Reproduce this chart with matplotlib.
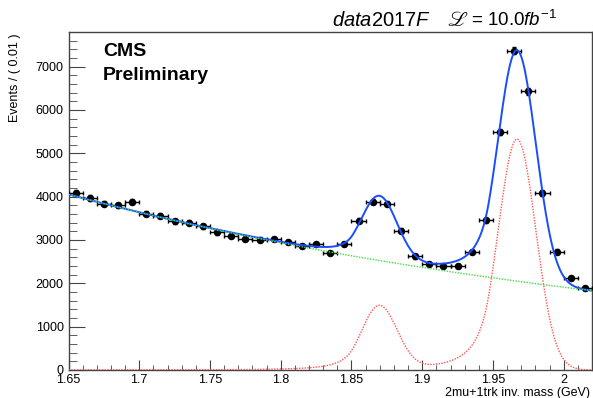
import numpy as np
import matplotlib
matplotlib.use("Agg")
import matplotlib.pyplot as plt
from matplotlib.ticker import MultipleLocator

plt.rcParams['font.family'] = ['Liberation Sans', 'DejaVu Sans']
plt.rcParams['mathtext.fontset'] = 'custom'
plt.rcParams['mathtext.rm'] = 'Liberation Sans'
plt.rcParams['mathtext.it'] = 'Liberation Sans:italic'
plt.rcParams['mathtext.bf'] = 'Liberation Sans:bold'

# ---- data (bin centres, events per 0.01 GeV) ----
mass = [1.655, 1.665, 1.675, 1.685, 1.695, 1.705, 1.715, 1.725, 1.735, 1.745,
        1.755, 1.765, 1.775, 1.785, 1.795, 1.805, 1.815, 1.825, 1.835, 1.845,
        1.855, 1.865, 1.875, 1.885, 1.895, 1.905, 1.915, 1.925, 1.935, 1.945,
        1.955, 1.965, 1.975, 1.985, 1.995, 2.005, 2.015]
events = [4090, 3974, 3836, 3803, 3882, 3611, 3557, 3433, 3395, 3318,
          3179, 3094, 3025, 3009, 3025, 2955, 2862, 2905, 2697, 2909,
          3446, 3882, 3836, 3218, 2623, 2454, 2407, 2407, 2724, 3456,
          5490, 7370, 6428, 4090, 2731, 2130, 1882]
bin_half = 0.005

# ---- fit parameters ----
bkg_norm = 4051.0      # background at 1.65 GeV
bkg_slope = -2.149     # exponential slope (1/GeV)
bkg_x0 = 1.65
dp_mean, dp_sigma, dp_amp = 1.8697, 0.0125, 1465.0
ds_mean, ds_sigma, ds_amp = 1.9670, 0.0133, 5330.0
cb_alpha, cb_n = 1.5, 3.0

xlim = (1.65, 2.02)
ylim = (0, 7800)


def crystal_ball(x, mu, sig, amp, a, n):
    t = (x - mu) / sig
    core = np.exp(-0.5 * t ** 2)
    base = np.clip(1.0 - a * (t + a) / n, 1e-9, None)
    tail = np.exp(-0.5 * a ** 2) * base ** (-n)
    return amp * np.where(t > -a, core, tail)


x = np.linspace(xlim[0], xlim[1], 800)
bkg = bkg_norm * np.exp(bkg_slope * (x - bkg_x0))
sig = (crystal_ball(x, dp_mean, dp_sigma, dp_amp, cb_alpha, cb_n)
       + crystal_ball(x, ds_mean, ds_sigma, ds_amp, cb_alpha, cb_n))
total = bkg + sig

fig = plt.figure(figsize=(5.93, 3.98), dpi=100)
ax = fig.add_axes([68.5 / 593, 28 / 398, (592 - 68.5) / 593, (370 - 32) / 398])

m = np.array(mass)
ev = np.array(events, dtype=float)
ax.errorbar(m, ev, xerr=bin_half, yerr=np.sqrt(ev), fmt='o', color='black',
            ms=4.4, elinewidth=1.0, capsize=1.5, capthick=1.0, zorder=3)

ax.plot(x, total, color='#1a4dff', lw=1.4, zorder=4)
ax.plot(x, bkg, color='#44dd44', lw=1.0, ls=(0, (1, 1)), zorder=5)
ax.plot(x, sig, color='#ff5555', lw=1.0, ls=(0, (1, 1)), zorder=5)

ax.set_xlim(*xlim)
ax.set_ylim(*ylim)
ax.xaxis.set_major_locator(MultipleLocator(0.05))
ax.xaxis.set_minor_locator(MultipleLocator(0.01))
ax.yaxis.set_major_locator(MultipleLocator(1000))
ax.yaxis.set_minor_locator(MultipleLocator(200))
ax.xaxis.set_major_formatter(matplotlib.ticker.FuncFormatter(
    lambda v, p: ('%.2f' % v).rstrip('0').rstrip('.')))

axcol = '#444444'
for s in ax.spines.values():
    s.set_color(axcol)
    s.set_linewidth(1.0)
ax.tick_params(axis='both', which='both', direction='in', color=axcol,
               top=False, right=False, labelsize=9)
ax.tick_params(axis='y', which='major', length=11.5, pad=3.5)
ax.tick_params(axis='y', which='minor', length=5.8)
ax.tick_params(axis='x', which='major', length=7.2, pad=3)
ax.tick_params(axis='x', which='minor', length=3.6)

fig.text(15 / 593, 1 - 33 / 398, 'Events / ( 0.01 )', rotation=90,
         ha='center', va='top', fontsize=9)
fig.text(590 / 593, 1 - 393 / 398, '2mu+1trk inv. mass (GeV)',
         ha='right', va='center', fontsize=9)

fig.text(103 / 593, 1 - 52 / 398, 'CMS', fontsize=14, fontweight='bold',
         ha='left', va='center')
fig.text(103 / 593, 1 - 76 / 398, 'Preliminary', fontsize=14,
         fontweight='bold', ha='left', va='center')

# header: luminosity label
fig.text(332 / 593, 1 - 26 / 398, r'$\mathit{data}$2017$\mathit{F}$',
         ha='left', va='baseline', fontsize=14.5)
fig.text(447 / 593, 1 - 26 / 398, r'$\mathscr{L}$', math_fontfamily='stix',
         ha='left', va='baseline', fontsize=15)
fig.text(471 / 593, 1 - 26 / 398, r'= 10.0$\mathit{fb}^{-1}$',
         ha='left', va='baseline', fontsize=13.5)

fig.savefig('out.png', dpi=100)
